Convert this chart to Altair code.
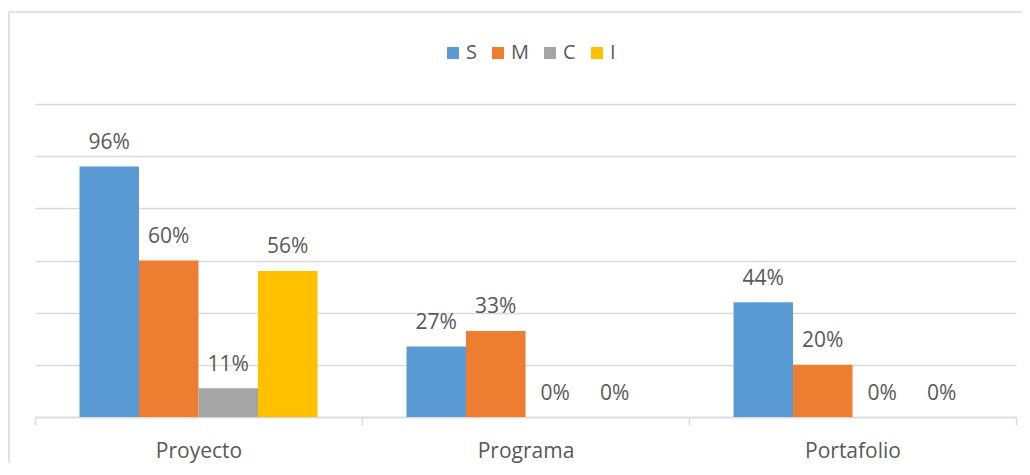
import altair as alt
import pandas as pd

categories = ["Proyecto", "Programa", "Portafolio"]
series = ["S", "M", "C", "I"]
colors = ["#5B9BD5", "#ED7D31", "#A5A5A5", "#FFC000"]
s_vals = [0.96, 0.27, 0.44]
m_vals = [0.60, 0.33, 0.20]
c_vals = [0.11, 0.00, 0.00]
i_vals = [0.56, 0.00, 0.00]
y_ticks = [0, 0.2, 0.4, 0.6, 0.8, 1.0, 1.2]

rows = []
for s, vals in zip(series, [s_vals, m_vals, c_vals, i_vals]):
    for c, v in zip(categories, vals):
        rows.append({"cat": c, "serie": s, "value": v})
df = pd.DataFrame(rows)

FONT = "Open Sans"
TEXT = "#595959"
GRID = "#D9D9D9"

x = alt.X(
    "cat:N", sort=categories, title=None,
    scale=alt.Scale(paddingInner=0, paddingOuter=0),
    axis=alt.Axis(labelAngle=0, labelFontSize=21, labelFont=FONT, labelColor=TEXT,
                  tickBand="extent", tickColor=GRID, tickWidth=1.5, tickSize=8,
                  domainColor=GRID, domainWidth=1.5, labelPadding=32,
                  labelBaseline="alphabetic"),
)
xo = alt.XOffset("serie:N", sort=series,
                 scale=alt.Scale(paddingInner=0, paddingOuter=0.748))
y = alt.Y(
    "value:Q", title=None,
    scale=alt.Scale(domain=[0, 1.2], nice=False),
    axis=alt.Axis(values=y_ticks, labels=False, ticks=False, domain=False,
                  grid=True, gridColor=GRID, gridWidth=1.5),
)
color = alt.Color(
    "serie:N", sort=series,
    scale=alt.Scale(domain=series, range=colors),
    legend=alt.Legend(orient="none", legendX=408, legendY=-61, direction="horizontal",
                      title=None, symbolType="square", symbolSize=144,
                      symbolStrokeWidth=0, labelFontSize=20, labelFont=FONT,
                      labelColor=TEXT, labelOffset=3, columnPadding=11, padding=0),
)

border = alt.Chart(pd.DataFrame({"a": [0]})).mark_rect(
    fillOpacity=0, stroke=GRID, strokeWidth=1.5
).encode(x=alt.value(-26), x2=alt.value(1100), y=alt.value(-92), y2=alt.value(500))

bars = alt.Chart(df).mark_bar().encode(x=x, xOffset=xo, y=y, color=color)

labels = alt.Chart(df).mark_text(
    dy=-17.5, baseline="alphabetic", fontSize=21, font=FONT, color=TEXT
).encode(x=x, xOffset=xo, y=y, text=alt.Text("value:Q", format=".0%"))

chart = alt.layer(border, bars, labels).properties(
    width=981, height=313,
    autosize=alt.AutoSizeParams(type="none"),
    padding={"left": 27, "top": 96, "right": 6, "bottom": 46},
    background="white",
).configure_view(stroke=None)

chart.save("out.html", embed_options={"renderer": "svg", "actions": False})
